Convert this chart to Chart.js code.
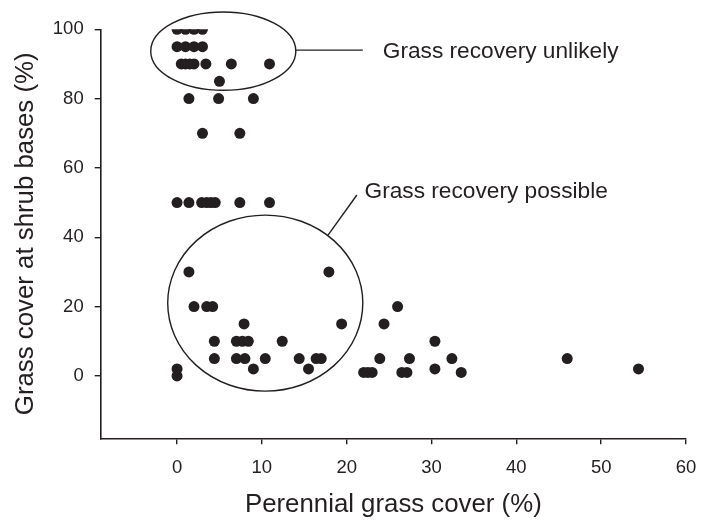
<!DOCTYPE html>
<html>
<head>
<meta charset="utf-8">
<script src="https://cdn.jsdelivr.net/npm/chart.js@4/dist/chart.umd.min.js"></script>
<style>
  html, body { margin: 0; padding: 0; background: #fff; }
  #wrap { width: 712px; height: 521px; position: relative; }
</style>
</head>
<body>
<div id="wrap"><canvas id="chart"></canvas></div>
<script>
// perennial grass cover (%) and grass cover at shrub bases (%), one entry per plot
const grassCover = [
  0, 1, 2, 3,
  0, 1, 2, 3,
  0.5, 1, 1.5, 2, 3.4, 6.4, 10.9,
  5,
  1.4, 4.9, 9.0,
  3.0, 7.4,
  0, 1.4, 2.9, 3.5, 4.0, 4.5, 7.4, 10.9,
  1.4, 17.9,
  2.0, 3.5, 4.2, 26.0,
  7.9, 19.4, 24.4,
  4.4, 7.0, 7.7, 8.4, 12.4, 30.4,
  4.4, 7.0, 8.0, 10.4, 14.4, 16.4, 17.0, 23.9, 27.4, 32.4, 46.0,
  0, 9.0, 15.5, 30.4, 54.4,
  0,
  22.0, 22.5, 23.0, 26.5, 27.1, 33.5
];
const shrubBaseCover = [
  100, 100, 100, 100,
  95, 95, 95, 95,
  90, 90, 90, 90, 90, 90, 90,
  85,
  80, 80, 80,
  70, 70,
  50, 50, 50, 50, 50, 50, 50, 50,
  30, 30,
  20, 20, 20, 20,
  15, 15, 15,
  10, 10, 10, 10, 10, 10,
  5, 5, 5, 5, 5, 5, 5, 5, 5, 5, 5,
  2, 2, 2, 2, 2,
  0,
  1, 1, 1, 1, 1, 1
];

const xTicks = [0, 10, 20, 30, 40, 50, 60];
const yTicks = [0, 20, 40, 60, 80, 100];

// annotation ellipses, in data units
const ellipses = [
  { cx: 5.45, cy: 93.7, rx: 8.55, ry: 11.3 },
  { cx: 10.4, cy: 21.0, rx: 11.5, ry: 25.4 }
];
const leaders = [
  { x1: 14.0, y1: 94.0, x2: 21.9, y2: 94.0 },
  { x1: 21.2, y1: 52.2, x2: 17.8, y2: 40.6 }
];
const notes = [
  { text: "Grass recovery unlikely", x: 24.25, y: 93.6 },
  { text: "Grass recovery possible", x: 22.1, y: 53.1 }
];

const FONT = "'Liberation Sans', Arial, Helvetica, sans-serif";
const INK = "#231f20";

const points = grassCover.map((x, i) => ({ x: x, y: shrubBaseCover[i] }));

const annotate = {
  id: "annotate",
  afterDatasetsDraw(chart) {
    const ctx = chart.ctx;
    const xs = chart.scales.x, ys = chart.scales.y;
    ctx.save();
    ctx.strokeStyle = INK;
    ctx.lineWidth = 1.4;
    ellipses.forEach(e => {
      const px = xs.getPixelForValue(e.cx);
      const py = ys.getPixelForValue(e.cy);
      const rx = Math.abs(xs.getPixelForValue(e.cx + e.rx) - px);
      const ry = Math.abs(ys.getPixelForValue(e.cy + e.ry) - py);
      ctx.beginPath();
      ctx.ellipse(px, py, rx, ry, 0, 0, Math.PI * 2);
      ctx.stroke();
    });
    leaders.forEach(l => {
      ctx.beginPath();
      ctx.moveTo(xs.getPixelForValue(l.x1), ys.getPixelForValue(l.y1));
      ctx.lineTo(xs.getPixelForValue(l.x2), ys.getPixelForValue(l.y2));
      ctx.stroke();
    });
    ctx.fillStyle = INK;
    ctx.font = "22.7px " + FONT;
    ctx.textAlign = "left";
    ctx.textBaseline = "middle";
    notes.forEach(n => {
      ctx.fillText(n.text, xs.getPixelForValue(n.x), ys.getPixelForValue(n.y));
    });
    ctx.restore();
  }
};

new Chart(document.getElementById("chart"), {
  type: "scatter",
  data: {
    datasets: [{
      data: points,
      backgroundColor: INK,
      borderColor: INK,
      borderWidth: 0,
      pointRadius: 5.5,
      pointHoverRadius: 5.5
    }]
  },
  options: {
    responsive: true,
    maintainAspectRatio: false,
    animation: false,
    layout: { padding: { left: 0, top: 29.3, right: 26, bottom: 0 } },
    plugins: { legend: { display: false }, tooltip: { enabled: false } },
    scales: {
      x: {
        type: "linear",
        min: -9,
        max: 60,
        afterBuildTicks: s => { s.ticks = xTicks.map(v => ({ value: v })); },
        afterFit: s => { s.height = 82.7; },
        border: { display: true, color: INK, width: 1.6 },
        grid: { drawOnChartArea: false, drawTicks: true, tickLength: 6, color: INK, lineWidth: 1.4 },
        ticks: { color: INK, font: { family: FONT, size: 18.5 }, padding: 13, maxRotation: 0 },
        title: {
          display: true,
          text: "Perennial grass cover (%)",
          color: INK,
          font: { family: FONT, size: 25.8 },
          padding: { top: 0, bottom: 1 }
        }
      },
      y: {
        type: "linear",
        min: -18,
        max: 100,
        afterBuildTicks: s => { s.ticks = yTicks.map(v => ({ value: v })); },
        afterFit: s => { s.width = 100.7; },
        border: { display: true, color: INK, width: 1.6 },
        grid: { drawOnChartArea: false, drawTicks: true, tickLength: 6, color: INK, lineWidth: 1.4 },
        ticks: { color: INK, font: { family: FONT, size: 18.5 }, padding: 11 },
        title: {
          display: true,
          text: "Grass cover at shrub bases (%)",
          color: INK,
          font: { family: FONT, size: 25.8 },
          padding: { top: 10, bottom: 0 }
        }
      }
    }
  },
  plugins: [annotate]
});
</script>
</body>
</html>
